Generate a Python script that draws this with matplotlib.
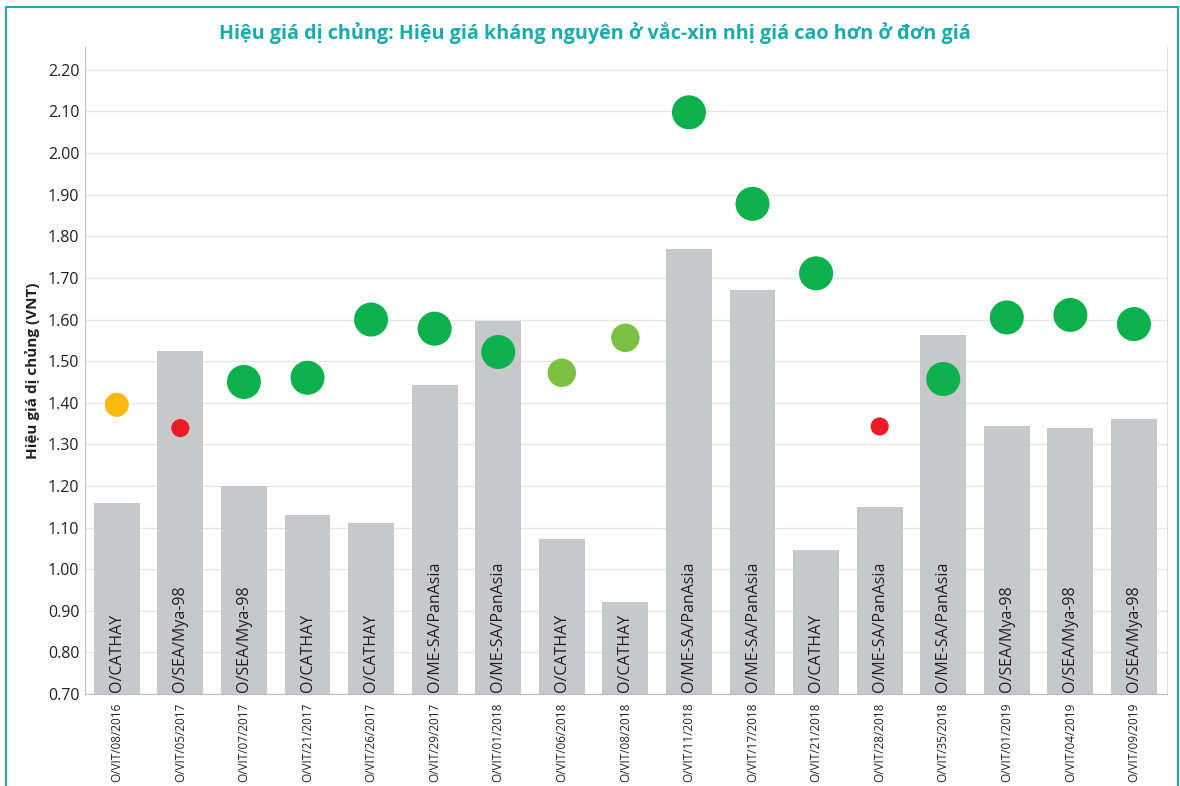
import numpy as np
import matplotlib.pyplot as plt
import matplotlib.patches as patches

plt.rcParams['font.family'] = ['Open Sans', 'DejaVu Sans']

# Dữ liệu
virus_ids = ['O/VIT/08/2016', 'O/VIT/05/2017', 'O/VIT/07/2017', 'O/VIT/21/2017',
             'O/VIT/26/2017', 'O/VIT/29/2017', 'O/VIT/01/2018', 'O/VIT/06/2018',
             'O/VIT/08/2018', 'O/VIT/11/2018', 'O/VIT/17/2018', 'O/VIT/21/2018',
             'O/VIT/28/2018', 'O/VIT/35/2018', 'O/VIT/01/2019', 'O/VIT/04/2019',
             'O/VIT/09/2019']
lineages = ['O/CATHAY', 'O/SEA/Mya-98', 'O/SEA/Mya-98', 'O/CATHAY', 'O/CATHAY',
            'O/ME-SA/PanAsia', 'O/ME-SA/PanAsia', 'O/CATHAY', 'O/CATHAY',
            'O/ME-SA/PanAsia', 'O/ME-SA/PanAsia', 'O/CATHAY', 'O/ME-SA/PanAsia',
            'O/ME-SA/PanAsia', 'O/SEA/Mya-98', 'O/SEA/Mya-98', 'O/SEA/Mya-98']
bar_values = [1.16, 1.525, 1.20, 1.13, 1.11, 1.443, 1.597, 1.073, 0.921,
              1.77, 1.67, 1.047, 1.15, 1.563, 1.345, 1.34, 1.36]
dot_values = [1.395, 1.339, 1.45, 1.46, 1.60, 1.578, 1.522, 1.472, 1.556,
              2.098, 1.878, 1.711, 1.343, 1.457, 1.605, 1.611, 1.589]
dot_groups = ['orange', 'red', 'green', 'green', 'green', 'green', 'green',
              'lightgreen', 'lightgreen', 'green', 'green', 'green', 'red',
              'green', 'green', 'green', 'green']

group_color = {'green': '#0DB14B', 'lightgreen': '#7AC143',
               'orange': '#FDB913', 'red': '#ED1C24'}
group_size = {'green': 600, 'lightgreen': 420, 'orange': 300, 'red': 170}

teal = '#1AABAB'

fig = plt.figure(figsize=(11.8, 7.86), dpi=100)
ax = fig.add_axes([85/1180, 92/786, 1082/1180, 647/786])

x = np.arange(len(virus_ids))
ax.bar(x, np.array(bar_values) - 0.70, bottom=0.70, width=0.72,
       color='#C7C8CA', zorder=2)

# Nhãn dòng virus bên trong cột
for i, lab in enumerate(lineages):
    ax.text(i, 0.705, lab, rotation=90, ha='center', va='bottom',
            fontsize=11.5, color='#231F20', zorder=3)

ax.scatter(x, dot_values, s=[group_size[g] for g in dot_groups],
           c=[group_color[g] for g in dot_groups], linewidths=0, zorder=4)

ax.set_xlim(-0.5, len(virus_ids) - 0.48)
ax.set_ylim(0.70, 2.255)
ticks = np.arange(0.70, 2.21, 0.10)
ax.set_yticks(ticks)
ax.set_yticklabels([f'{v:.2f}' for v in ticks])
ax.set_xticks(x)
ax.set_xticklabels(virus_ids, rotation=90, fontsize=8.5)
ax.tick_params(axis='both', length=0, colors='#231F20')
ax.tick_params(axis='y', labelsize=11.5, pad=4)
ax.tick_params(axis='x', pad=6)
ax.grid(axis='y', color='#E6E6E6', linewidth=1, zorder=0)
ax.set_axisbelow(True)

for side in ['left', 'bottom']:
    ax.spines[side].set_color('#BDBDBD')
ax.spines['right'].set_color('#DDDDDD')
ax.spines['top'].set_visible(False)

ax.set_ylabel('Hiệu giá dị chủng (VNT)', fontsize=11, fontweight='bold',
              color='#231F20', labelpad=6)

fig.text(595/1180, 1 - 33/786,
         'Hiệu giá dị chủng: Hiệu giá kháng nguyên ở vắc-xin nhị giá cao hơn ở đơn giá',
         ha='center', va='center', fontsize=14.2, fontweight='bold', color=teal)

# Khung viền
frame = patches.Rectangle((6/1180, -0.05), 1172/1180, 1.05 - 7/786,
                          transform=fig.transFigure, fill=False,
                          edgecolor=teal, linewidth=1.5)
fig.patches.append(frame)

fig.savefig('out.png', dpi=100)
